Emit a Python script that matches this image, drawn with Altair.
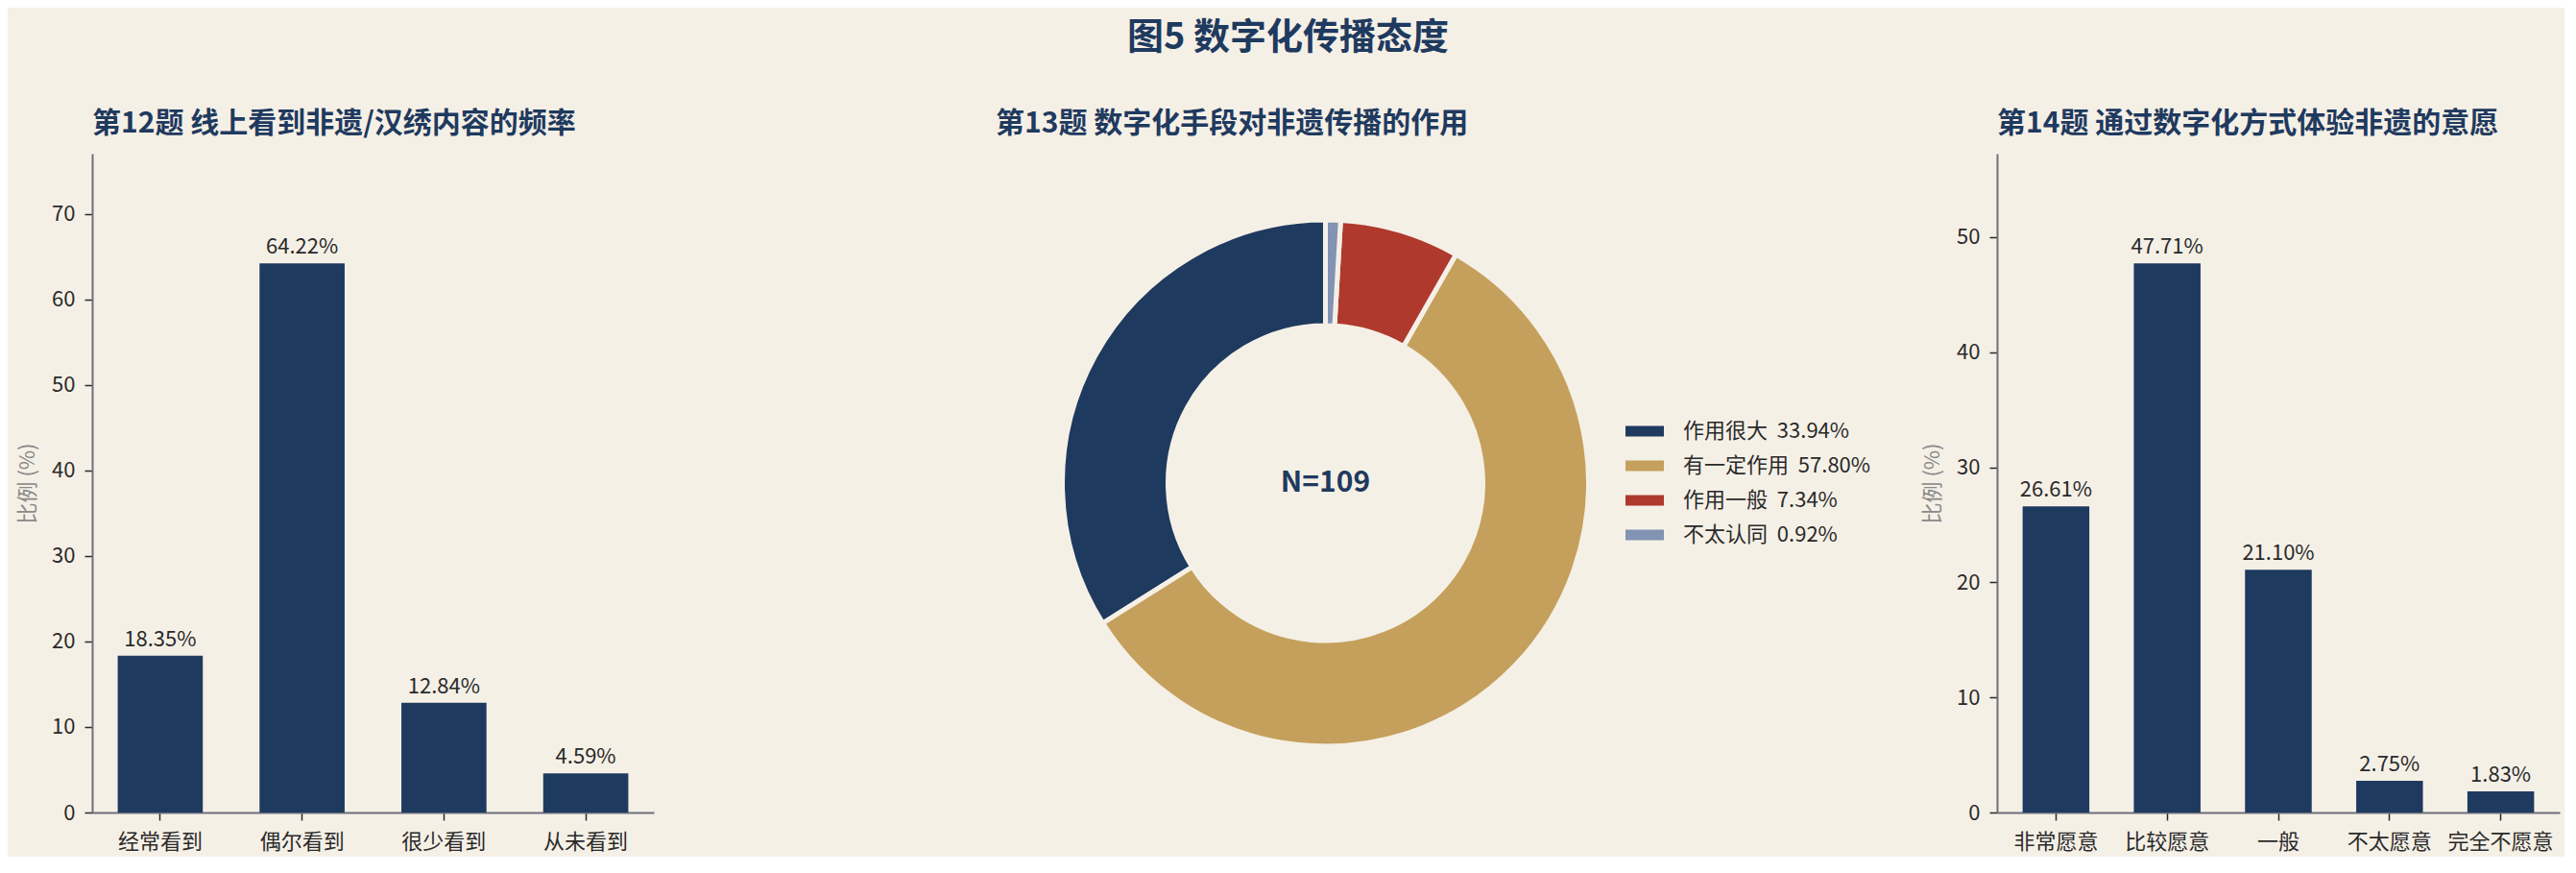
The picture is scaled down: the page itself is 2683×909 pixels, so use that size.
import altair as alt
import pandas as pd

FONT = "Noto Sans CJK SC"
NAVY = "#1f3a5f"
BG = "#f5f0e6"
TXT = "#2a2a2a"

# ---- data ----
q12_cats = ["经常看到", "偶尔看到", "很少看到", "从未看到"]
q12_vals = [18.35, 64.22, 12.84, 4.59]

q13_cats = ["作用很大", "有一定作用", "作用一般", "不太认同"]
q13_vals = [33.94, 57.80, 7.34, 0.92]
q13_colors = ["#1f3a5f", "#c4a05c", "#b0392e", "#8293b3"]
n_total = 109

q14_cats = ["非常愿意", "比较愿意", "一般", "不太愿意", "完全不愿意"]
q14_vals = [26.61, 47.71, 21.10, 2.75, 1.83]

PLOT_H = 686


def bar_panel(cats, vals, title, ymax, ticks, pad_outer, width):
    df = pd.DataFrame({"cat": cats, "val": vals,
                       "label": [f"{v:.2f}%" for v in vals]})
    base = alt.Chart(df).encode(
        x=alt.X("cat:N", sort=cats,
                scale=alt.Scale(paddingInner=0.4, paddingOuter=pad_outer),
                axis=alt.Axis(title=None, labelAngle=0, labelPadding=12,
                              labelFontSize=22, labelColor=TXT, labelFont=FONT,
                              tickColor=TXT, tickSize=8, tickWidth=1.5,
                              domainColor="#6e6e7a", domainWidth=2, grid=False)),
        y=alt.Y("val:Q",
                scale=alt.Scale(domain=[0, ymax], nice=False, zero=True),
                axis=alt.Axis(title="比例 (%)", values=ticks, grid=False,
                              labelFontSize=22, labelColor=TXT, labelFont=FONT,
                              labelPadding=10,
                              tickColor=TXT, tickSize=8, tickWidth=1.5,
                              domainColor="#6e6e7a", domainWidth=2,
                              titleColor="#8a8a8a", titleFontSize=22,
                              titleFont=FONT, titleFontWeight="normal",
                              titleAngle=270, titleAlign="center",
                              titleBaseline="middle", titleX=-68,
                              titleY=PLOT_H / 2)),
    )
    bars = base.mark_bar(color=NAVY)
    text = base.mark_text(baseline="alphabetic", dy=-10, fontSize=22,
                          font=FONT, color=TXT).encode(text="label:N")
    return (bars + text).properties(
        width=width, height=PLOT_H,
        title=alt.TitleParams(title, anchor="start", frame="group",
                              fontSize=30, fontWeight="bold", color=NAVY,
                              font=FONT, offset=16),
    )


left = bar_panel(q12_cats, q12_vals, "第12题 线上看到非遗/汉绣内容的频率",
                 77.06, [0, 10, 20, 30, 40, 50, 60, 70], 0.18, 585)
right = bar_panel(q14_cats, q14_vals, "第14题 通过数字化方式体验非遗的意愿",
                  57.25, [0, 10, 20, 30, 40, 50], 0.23, 586)

# ---- donut ----
donut_df = pd.DataFrame({
    "cat": q13_cats,
    "val": q13_vals,
    "idx": list(range(len(q13_cats))),
    "lab": [f"{c}\u00a0\u00a0{v:.2f}%" for c, v in zip(q13_cats, q13_vals)],
})
legend_labels = list(donut_df["lab"])

arc = alt.Chart(donut_df).mark_arc(
    innerRadius=164, outerRadius=274, stroke=BG, strokeWidth=5
).encode(
    theta=alt.Theta("val:Q", stack=True),
    order=alt.Order("idx:Q", sort="descending"),
    color=alt.Color(
        "lab:N",
        scale=alt.Scale(domain=legend_labels, range=q13_colors),
        legend=alt.Legend(
            title=None, orient="none", legendX=656, legendY=269,
            symbolType="M-1,-0.275H1V0.275H-1Z", symbolSize=1600,
            symbolStrokeWidth=0, symbolOpacity=1,
            labelFontSize=22, labelFont=FONT, labelColor=TXT,
            labelOffset=20, labelLimit=0, rowPadding=5, padding=0,
        ),
    ),
)

center_df = pd.DataFrame({"t": [f"N={n_total}"]})
center = alt.Chart(center_df).mark_text(
    fontSize=30, fontWeight="bold", color=NAVY, font=FONT, baseline="middle"
).encode(text="t:N")

donut = (arc + center).properties(
    width=687, height=PLOT_H,
    title=alt.TitleParams("第13题 数字化手段对非遗传播的作用", anchor="start",
                          frame="group", fontSize=30, fontWeight="bold",
                          color=NAVY, font=FONT, offset=16),
)

chart = alt.hconcat(left, donut, right, spacing=356, bounds="flush").resolve_scale(
    color="independent"
).resolve_legend(color="independent").properties(
    title=alt.TitleParams("图5 数字化传播态度", anchor="middle", frame="bounds",
                          fontSize=38, fontWeight="bold", color=NAVY,
                          font=FONT, offset=55),
    background=BG,
    padding={"left": 9, "top": 13, "right": 5, "bottom": 5},
).configure(font=FONT).configure_view(stroke="transparent", strokeWidth=0)

chart.save("out.html", embed_options={"renderer": "svg", "actions": False})
